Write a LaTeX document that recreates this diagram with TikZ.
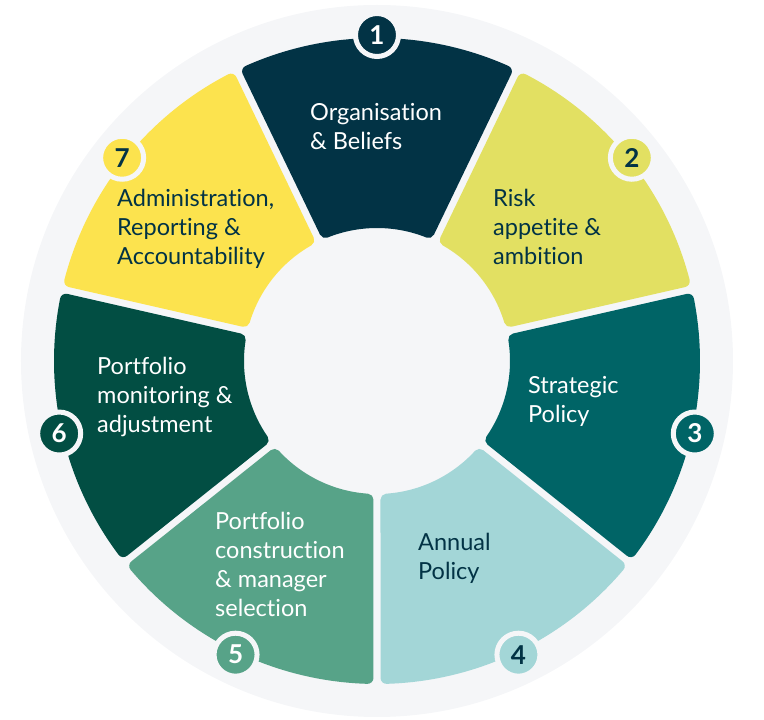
\documentclass[tikz,border=0pt]{standalone}
\usepackage{fontspec}
\setmainfont{Lato}[Ligatures=NoCommon]
\usetikzlibrary{calc}

\definecolor{bggray}{HTML}{F5F6F8}
\definecolor{navy}{HTML}{023345}
\definecolor{lime}{HTML}{E2E062}
\definecolor{teal}{HTML}{006466}
\definecolor{aqua}{HTML}{A3D6D7}
\definecolor{sage}{HTML}{57A388}
\definecolor{forest}{HTML}{024E43}
\definecolor{sun}{HTML}{FCE34E}

\begin{document}
\begin{tikzpicture}
	[x=1pt,y=1pt,
	segtext/.style={inner sep=0pt,anchor=west,align=left,
		font=\fontsize{23.5}{29}\selectfont},
	badge/.style={shape=circle,draw=bggray,line width=5pt,
		minimum size=43pt,inner sep=0pt,
		font=\fontsize{26}{26}\selectfont\bfseries}]
	\useasboundingbox (-377,-359) rectangle (387,361);
	\fill[bggray] (0,0) circle (356pt);
	
	\foreach \k/\col/\txt in {0/navy/white,1/lime/navy,2/teal/white,3/aqua/navy,
		4/sage/white,5/forest/white,6/sun/navy}
	{
		\pgfmathsetmacro\mid{90-51.4286*\k}
		\pgfmathsetmacro\sa{\mid-25.7143}
		\pgfmathsetmacro\sb{\mid+25.7143}
		\filldraw[fill=\col,draw=\col,line width=12pt,line join=round]
			({\sa+1.72}:317pt) arc[start angle={\sa+1.72},end angle={\sb-1.72},radius=317pt]
			-- ({\sb-3.92}:139pt) arc[start angle={\sb-3.92},end angle={\sa+3.92},radius=139pt]
			-- cycle;
		\pgfmathtruncatemacro\num{\k+1}
		\node[badge,fill=\col,text=\txt] (n\num) at (\mid:326pt) {\num};
	}
	
	\node[segtext,text=white] (t1) at (-67,234.5) {Organisation\\\& Beliefs};
	\node[segtext,text=navy] (t2) at (116,134.5) {Risk\\appetite \&\\ambition};
	\node[segtext,text=white] (t3) at (151,-40.5) {Strategic\\Policy};
	\node[segtext,text=navy] (t4) at (41,-197.5) {Annual\\Policy};
	\node[segtext,text=white] (t5) at (-162,-203.5) {Portfolio\\construction\\\& manager\\selection};
	\node[segtext,text=white] (t6) at (-280,-36) {Portfolio\\monitoring \&\\adjustment};
	\node[segtext,text=navy] (t7) at (-260,132) {Administration,\\Reporting \&\\Accountability};
\end{tikzpicture}
\end{document}
